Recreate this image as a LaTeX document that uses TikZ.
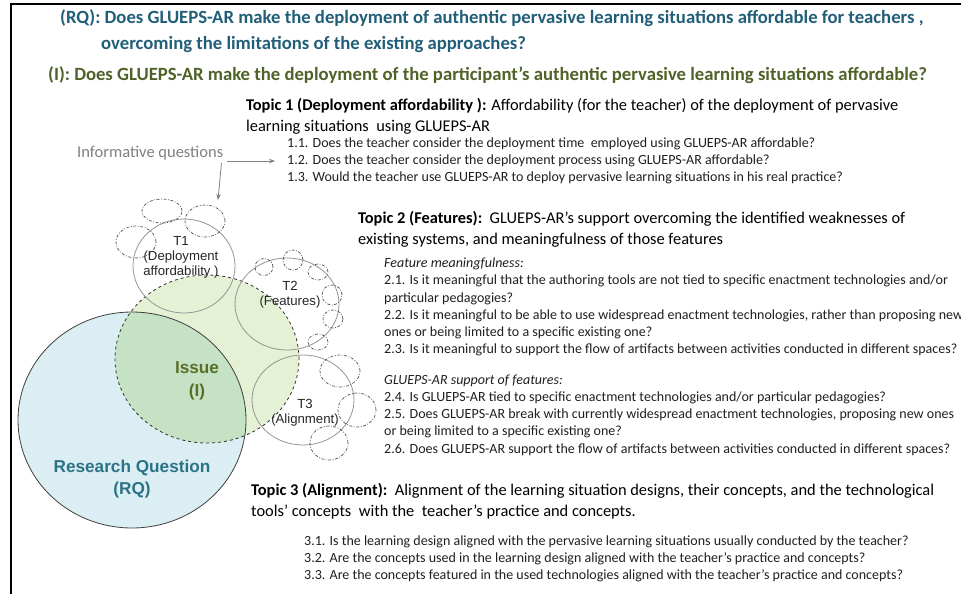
\documentclass[tikz,border=0pt]{standalone}
\usepackage{fontspec}
\setmainfont{Carlito}
\newfontfamily\vennfont{Liberation Sans}
\usetikzlibrary{arrows.meta, positioning}
\definecolor{rqblue}{RGB}{33,94,120}
\definecolor{rqtext}{RGB}{45,115,135}
\definecolor{iolive}{RGB}{79,98,40}
\definecolor{ilabel}{RGB}{90,112,40}
\definecolor{rqfill}{RGB}{218,238,243}
\definecolor{ifill}{RGB}{229,241,213}
\definecolor{bothfill}{RGB}{198,226,196}
\definecolor{infogray}{RGB}{128,128,128}
\tikzset{title/.style={font=\fontsize{18.7}{26}\selectfont\bfseries, anchor=west, align=left, inner sep=0}}
\tikzset{topic/.style={font=\fontsize{16.4}{21}\selectfont, anchor=west, align=left, inner sep=0}}
\tikzset{question/.style={font=\fontsize{14}{17.2}\selectfont, anchor=west, align=left, inner sep=0, text=black!88}}
\tikzset{info/.style={font=\fontsize{16.5}{18}\selectfont, anchor=west, inner sep=0, text=infogray}}
\tikzset{infoarrow/.style={draw=infogray, line width=0.8pt, -{Stealth[length=6pt,width=4.5pt]}}}
\tikzset{topiccircle/.style={draw=black!42, line width=0.8pt}}
\tikzset{subtopic/.style={draw=black!68, line width=0.7pt, dash pattern=on 3pt off 1.6pt on 0.8pt off 1.6pt}}
\tikzset{tlabel/.style={font=\vennfont\fontsize{13.2}{15}\selectfont, align=center, inner sep=0, text=black!85}}
\tikzset{biglabel/.style={font=\vennfont\fontsize{17.2}{22.5}\selectfont\bfseries, align=center, inner sep=0}}

\begin{document}
\begin{tikzpicture}[x=1pt, y=-1pt]
\useasboundingbox (0,0) rectangle (961,594);
\draw[line width=1.6pt] (11,594) -- (11,4) -- (961,4);

\node[title, text=rqblue] (rq) at (60,31) {(RQ): Does GLUEPS-AR make the deployment of authentic pervasive learning situations affordable for teachers ,\\\hspace*{41pt}overcoming the limitations of the existing approaches?};
\node[title, text=iolive] (issue) at (48,75) {(I): Does GLUEPS-AR make the deployment of the participant’s authentic pervasive learning situations affordable?};

\node[topic] (topic1) at (246,116) {\textbf{Topic 1 (Deployment affordability ):} Affordability (for the teacher) of the deployment of pervasive\\learning situations\ \ using GLUEPS-AR};
\node[question] (q1) at (287,161) {1.1. Does the teacher consider the deployment time\ \ employed using GLUEPS-AR affordable?\\1.2. Does the teacher consider the deployment process using GLUEPS-AR affordable?\\1.3. Would the teacher use GLUEPS-AR to deploy pervasive learning situations in his real practice?};
\node[info] (infoq) at (77,153) {Informative questions};

\node[topic] (topic2) at (358,229) {\textbf{Topic 2 (Features):}\ \ GLUEPS-AR’s support overcoming the identified weaknesses of\\existing systems, and meaningfulness of those features};
\node[question] (meaning) at (384,307) {\textit{Feature meaningfulness:}\\2.1. Is it meaningful that the authoring tools are not tied to specific enactment technologies and/or\\particular pedagogies?\\2.2. Is it meaningful to be able to use widespread enactment technologies, rather than proposing new\\ones or being limited to a specific existing one?\\2.3. Is it meaningful to support the flow of artifacts between activities conducted in different spaces?};
\node[question] (support) at (384,415) {\textit{GLUEPS-AR support of features:}\\2.4. Is GLUEPS-AR tied to specific enactment technologies and/or particular pedagogies?\\2.5. Does GLUEPS-AR break with currently widespread enactment technologies, proposing new ones\\or being limited to a specific existing one?\\2.6. Does GLUEPS-AR support the flow of artifacts between activities conducted in different spaces?};

\node[topic] (topic3) at (251,501.5) {\textbf{Topic 3 (Alignment):}\ \ Alignment of the learning situation designs, their concepts, and the technological\\tools’ concepts\ \ with the\ \ teacher’s practice and concepts.};
\node[question] (q3) at (304,559) {3.1. Is the learning design aligned with the pervasive learning situations usually conducted by the teacher?\\3.2. Are the concepts used in the learning design aligned with the teacher’s practice and concepts?\\3.3. Are the concepts featured in the used technologies aligned with the teacher’s practice and concepts?};

% venn part
\coordinate (crq) at (132,420);
\coordinate (ci) at (207,359);
\fill[rqfill] (crq) ellipse [x radius=114pt, y radius=108pt];
\fill[ifill] (ci) ellipse [x radius=92pt, y radius=84pt];
\begin{scope}
\clip (crq) ellipse [x radius=114pt, y radius=108pt];
\fill[bothfill] (ci) ellipse [x radius=92pt, y radius=84pt];
\end{scope}
\draw[black!75, line width=0.8pt] (crq) ellipse [x radius=114pt, y radius=108pt];
\draw[black!80, line width=0.8pt, dashed] (ci) ellipse [x radius=92pt, y radius=84pt];

\draw[topiccircle] (184,266) ellipse [x radius=51pt, y radius=47pt];
\draw[topiccircle] (287,304) ellipse [x radius=52pt, y radius=46pt];
\draw[topiccircle] (303,400) ellipse [x radius=51pt, y radius=45pt];

\foreach \x/\y/\rx/\ry in {162/211/20/12, 205/221/20/16, 136/242/20/16,
  264/267/9/8.5, 293/260/10/10, 318/272/10/8, 332/295/10/10, 333/319/10/9, 318/342/10/8,
  340/371/20/16, 357/410/19/17, 329/443/19/17}
  \draw[subtopic] (\x,\y) ellipse [x radius=\rx pt, y radius=\ry pt];

\node[tlabel] (t1) at (181,257) {T1\\(Deployment\\affordability )};
\node[tlabel] (t2) at (290,295) {T2\\(Features)};
\node[tlabel] (t3) at (305,413) {T3\\(Alignment)};
\node[biglabel, text=ilabel] (issuelabel) at (197,381) {Issue\\(I)};
\node[biglabel, text=rqtext] (rqlabel) at (132,479) {Research Question\\(RQ)};

\coordinate[left=12pt of q1.west] (p1);
\coordinate (p2) at (218,200);
\draw[infoarrow, shorten <=4pt] (infoq.east |- p1) -- (p1);
\draw[infoarrow] ([xshift=-2pt, yshift=-10pt]infoq.east) -- (p2);
\end{tikzpicture}
\end{document}
